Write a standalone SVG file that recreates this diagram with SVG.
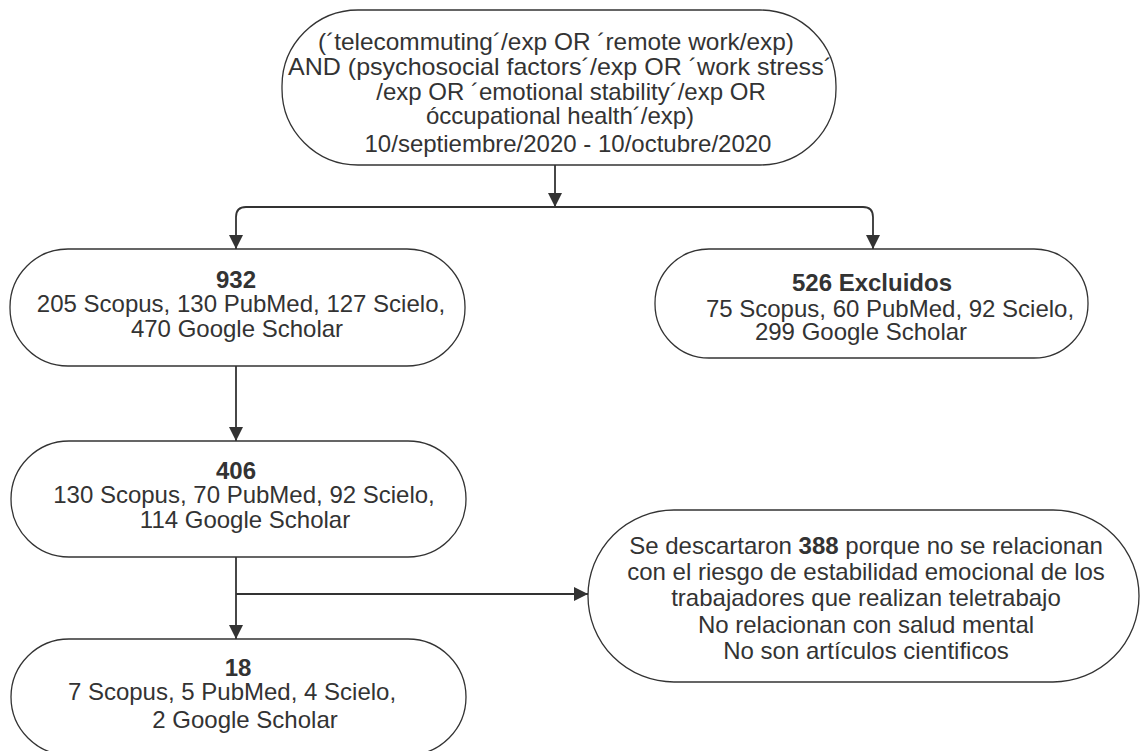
<svg xmlns="http://www.w3.org/2000/svg" width="1140" height="751" viewBox="0 0 1140 751">
<style>
.node{fill:#fff;stroke:#333;stroke-width:1.3}
.t{font-family:"Liberation Sans",Arial,sans-serif;font-size:24px;fill:#333;text-anchor:middle}
.b{font-weight:bold}
.c{fill:none;stroke:#333;stroke-width:1.8}
</style>
<defs>
<marker id="ah" viewBox="0 0 14 14" refX="14" refY="7" markerWidth="14" markerHeight="14" markerUnits="userSpaceOnUse" orient="auto">
<path d="M0,0 L14,7 L0,14 Z" fill="#333"/>
</marker>
</defs>
<rect width="1140" height="751" fill="#fff"/>
<g id="connectors">
<path class="c" d="M555,165 V207" marker-end="url(#ah)"/>
<path class="c" d="M555,207 H246 Q236,207 236,217 V249" marker-end="url(#ah)"/>
<path class="c" d="M555,207 H863 Q873,207 873,217 V249" marker-end="url(#ah)"/>
<path class="c" d="M236,366 V441" marker-end="url(#ah)"/>
<path class="c" d="M236,557 V639" marker-end="url(#ah)"/>
<path class="c" d="M236,594 H588" marker-end="url(#ah)"/>
</g>
<g id="node-query">
<rect class="node" x="282" y="10" width="554" height="155" rx="76" ry="76"/>
<text class="t" x="556" y="50" textLength="476" lengthAdjust="spacingAndGlyphs">(´telecommuting´/exp OR ´remote work/exp)</text>
<text class="t" x="560" y="75" textLength="544" lengthAdjust="spacingAndGlyphs">AND (psychosocial factors´/exp OR ´work stress´</text>
<text class="t" x="571" y="100">/exp OR ´emotional stability´/exp OR</text>
<text class="t" x="560" y="124">óccupational health´/exp)</text>
<text class="t" x="568" y="152">10/septiembre/2020 - 10/octubre/2020</text>
</g>
<g id="node-932">
<rect class="node" x="10" y="249" width="455" height="117" rx="58" ry="58"/>
<text class="t b" x="236" y="288">932</text>
<text class="t" x="241" y="312">205 Scopus, 130 PubMed, 127 Scielo,</text>
<text class="t" x="237" y="337">470 Google Scholar</text>
</g>
<g id="node-526">
<rect class="node" x="655" y="249" width="433" height="109" rx="54" ry="54"/>
<text class="t b" x="872" y="291">526 Excluidos</text>
<text class="t" x="890" y="317">75 Scopus, 60 PubMed, 92 Scielo,</text>
<text class="t" x="861" y="340">299 Google Scholar</text>
</g>
<g id="node-406">
<rect class="node" x="11" y="441" width="455" height="116" rx="58" ry="58"/>
<text class="t b" x="236" y="479">406</text>
<text class="t" x="244" y="503">130 Scopus, 70 PubMed, 92 Scielo,</text>
<text class="t" x="245" y="528">114 Google Scholar</text>
</g>
<g id="node-18">
<rect class="node" x="11" y="639" width="455" height="116" rx="58" ry="58"/>
<text class="t b" x="238" y="676">18</text>
<text class="t" x="232" y="700">7 Scopus, 5 PubMed, 4 Scielo,</text>
<text class="t" x="245" y="728">2 Google Scholar</text>
</g>
<g id="node-388">
<rect class="node" x="588" y="510" width="551" height="172" rx="86" ry="86"/>
<text class="t" x="866" y="554">Se descartaron <tspan class="b">388</tspan> porque no se relacionan</text>
<text class="t" x="866" y="580">con el riesgo de estabilidad emocional de los</text>
<text class="t" x="866" y="606">trabajadores que realizan teletrabajo</text>
<text class="t" x="866" y="633">No relacionan con salud mental</text>
<text class="t" x="866" y="659">No son artículos cientificos</text>
</g>
</svg>
